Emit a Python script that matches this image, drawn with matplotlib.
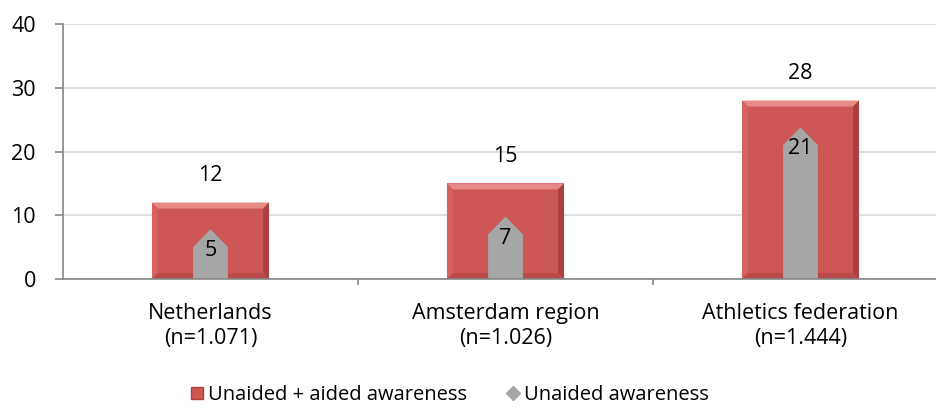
import matplotlib.pyplot as plt
from matplotlib.patches import Polygon
from matplotlib.lines import Line2D

plt.rcParams["font.family"] = ["Open Sans", "DejaVu Sans"]

cats = ["Netherlands\n(n=1.071)", "Amsterdam region\n(n=1.026)", "Athletics federation\n(n=1.444)"]
total = [12, 15, 28]
unaided = [5, 7, 21]
names = ["Unaided + aided awareness", "Unaided awareness"]

red = "#CD5754"
gray = "#A6A6A6"
fs = 15.5


def bevel_bar(ax, x, h, w, bv=0.02, bh=0.95):
    # flat face plus four bevelled edges
    x0, x1 = x - w / 2, x + w / 2
    ax.add_patch(Polygon([(x0, 0), (x1, 0), (x1, h), (x0, h)], closed=True,
                         fc=red, ec="none", zorder=2))
    ix0, ix1 = x0 + bv, x1 - bv
    ax.add_patch(Polygon([(x0, h), (x1, h), (ix1, h - bh), (ix0, h - bh)],
                         fc="#E58A87", ec="none", zorder=3))
    ax.add_patch(Polygon([(x0, h), (ix0, h - bh), (ix0, bh), (x0, 0)],
                         fc="#D8625F", ec="none", zorder=3))
    ax.add_patch(Polygon([(x1, h), (ix1, h - bh), (ix1, bh), (x1, 0)],
                         fc="#A9413F", ec="none", zorder=3))
    ax.add_patch(Polygon([(x0, 0), (ix0, bh), (ix1, bh), (x1, 0)],
                         fc="#BA4B48", ec="none", zorder=3))


def arrow_bar(ax, x, h, w, tip=2.8):
    x0, x1 = x - w / 2, x + w / 2
    ax.add_patch(Polygon([(x0, 0), (x1, 0), (x1, h), (x, h + tip), (x0, h)],
                         fc=gray, ec="none", zorder=4))


fig = plt.figure(figsize=(9.36, 4.09), dpi=100)
ax = fig.add_axes([63 / 936, 1 - 279 / 409, 885 / 936, 255 / 409])

for i in range(len(cats)):
    bevel_bar(ax, i, total[i], 0.397)
    arrow_bar(ax, i, unaided[i], 0.118)
    ax.text(i, total[i] + 4.2, str(total[i]), ha="center", va="center", fontsize=fs, zorder=5)
    ax.text(i, unaided[i] - 0.6, str(unaided[i]), ha="center", va="center", fontsize=fs, zorder=5)

ax.set_xlim(-0.5, 2.5)
ax.set_ylim(0, 40)
ax.set_yticks([0, 10, 20, 30, 40])
ax.set_xticks([0, 1, 2])
ax.set_xticklabels(cats, fontsize=fs, linespacing=1.25)
ax.set_xticks([0.5, 1.5], minor=True)
ax.tick_params(axis="x", which="major", length=0, pad=17)
ax.tick_params(axis="x", which="minor", length=4.5, color="#868686", width=1.2)
ax.tick_params(axis="y", length=5.5, color="#868686", width=1.2, labelsize=fs, pad=14)
ax.grid(axis="y", color="#D9D9D9", lw=1.2, zorder=0)
ax.set_axisbelow(True)
for s in ["top", "right"]:
    ax.spines[s].set_visible(False)
for s in ["left", "bottom"]:
    ax.spines[s].set_color("#868686")
    ax.spines[s].set_linewidth(1.2)
ax.spines["bottom"].set_zorder(6)

hs = [Line2D([], [], marker="s", ls="none", mfc=red, mec="#A9413F", ms=9),
      Line2D([], [], marker="D", ls="none", mfc=gray, mec=gray, ms=7)]
fig.legend(hs, names, loc="center", bbox_to_anchor=(448 / 936, 1 - 395 / 409), ncol=2,
           frameon=False, fontsize=14.5, handletextpad=0.05, columnspacing=1.8, handlelength=1,
           borderpad=0.1)

plt.savefig("out.png", dpi=100)
